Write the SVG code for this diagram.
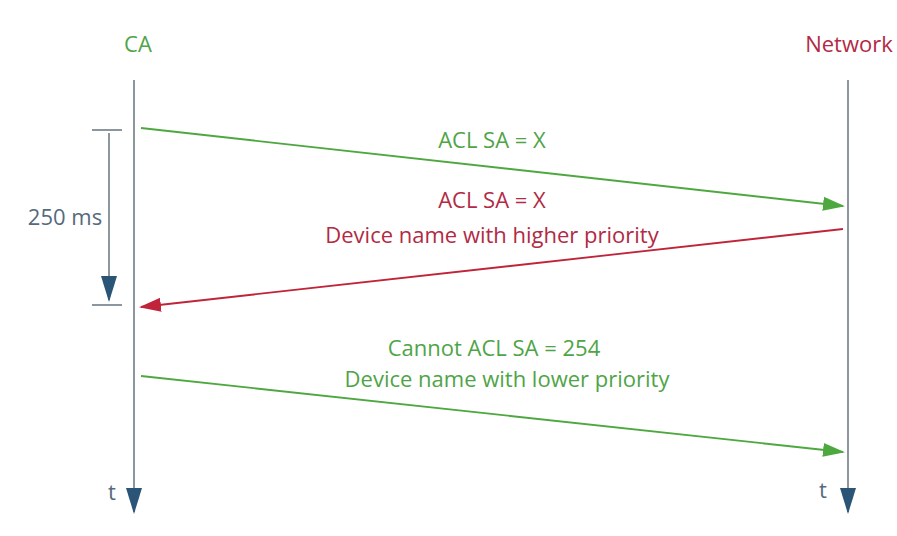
<svg xmlns="http://www.w3.org/2000/svg" width="897" height="536" viewBox="0 0 897 536">
<style>
text{font-family:"Open Sans","Liberation Sans",sans-serif;font-size:22px;text-anchor:middle}
.g{fill:#4fa447}
.r{fill:#b22a45}
.b{fill:#566a7e}
.life{stroke:#8c969f;stroke-width:2;fill:none}
.ga{stroke:#4da83f;stroke-width:1.8;fill:none}
.ra{stroke:#c0243a;stroke-width:1.8;fill:none}
</style>
<defs>
<marker id="mg" markerWidth="22" markerHeight="16" refX="20" refY="8" orient="auto" markerUnits="userSpaceOnUse"><path d="M0,1 L22,8 L0,15 Z" fill="#4da83f"/></marker>
<marker id="mr" markerWidth="22" markerHeight="16" refX="20" refY="8" orient="auto" markerUnits="userSpaceOnUse"><path d="M0,1 L22,8 L0,15 Z" fill="#c0243a"/></marker>
<marker id="mb" markerWidth="26" markerHeight="18" refX="24" refY="9" orient="auto" markerUnits="userSpaceOnUse"><path d="M0,1 L26,9 L0,17 Z" fill="#2b5576"/></marker>
</defs>
<rect width="897" height="536" fill="#ffffff"/>
<g id="ca">
<text class="g" x="138" y="52">CA</text>
<line class="life" x1="134" y1="80" x2="134" y2="512" marker-end="url(#mb)"/>
<text class="b" x="112" y="500">t</text>
</g>
<g id="network">
<text class="r" x="849" y="52">Network</text>
<line class="life" x1="848" y1="80" x2="848" y2="512" marker-end="url(#mb)"/>
<text class="b" x="823" y="498">t</text>
</g>
<g id="timing">
<line class="life" x1="92" y1="130" x2="122" y2="130"/>
<line class="life" x1="92" y1="305" x2="122" y2="305"/>
<line class="life" x1="109" y1="133" x2="109" y2="300" marker-end="url(#mb)"/>
<text class="b" x="65" y="225">250 ms</text>
</g>
<g id="connectors">
<line class="ga" x1="141" y1="128" x2="843" y2="206" marker-end="url(#mg)"/>
<line class="ra" x1="843" y1="229" x2="141" y2="307" marker-end="url(#mr)"/>
<line class="ga" x1="141" y1="376" x2="843" y2="452" marker-end="url(#mg)"/>
</g>
<g id="labels">
<text class="g" x="492" y="148">ACL SA = X</text>
<text class="r" x="492" y="208">ACL SA = X</text>
<text class="r" x="492" y="243">Device name with higher priority</text>
<text class="g" x="494" y="356">Cannot ACL SA = 254</text>
<text class="g" x="507" y="387">Device name with lower priority</text>
</g>
</svg>
